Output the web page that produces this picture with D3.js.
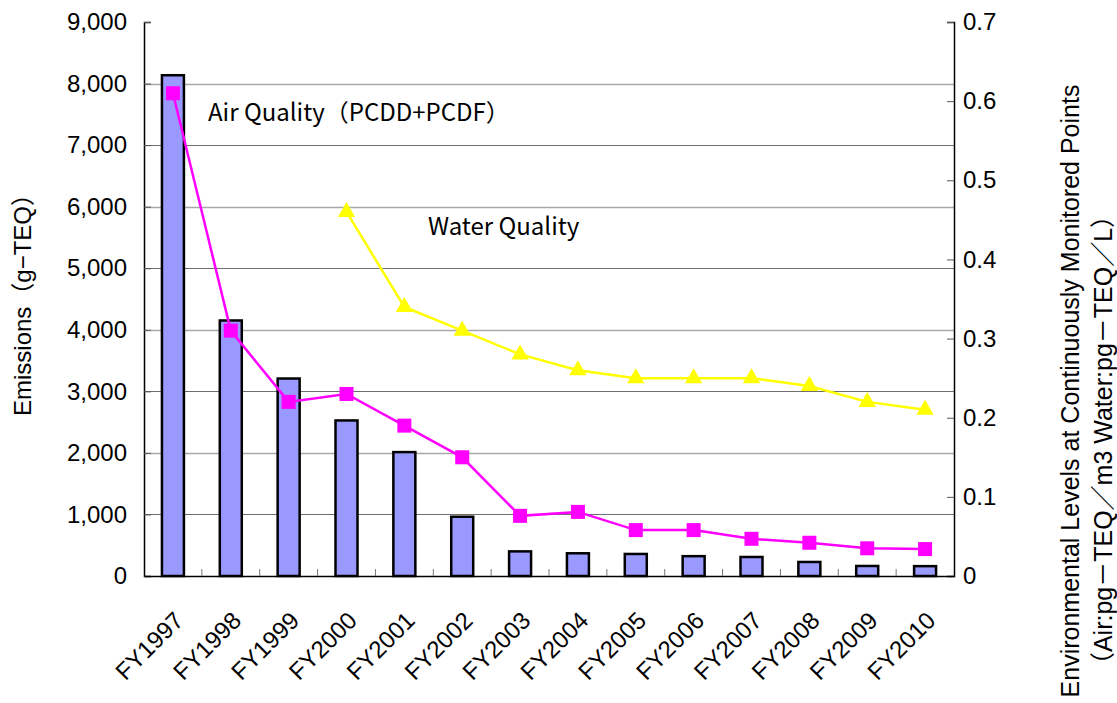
<!DOCTYPE html>
<html>
<head>
<meta charset="utf-8">
<script src="https://cdn.jsdelivr.net/npm/d3@7"></script>
<style>
  body { margin: 0; background: #fff; }
  svg text { font-family: "Liberation Sans", Arial, "Noto Sans CJK JP", sans-serif; fill: #000; }
  .jp { font-family: "Noto Sans CJK JP", "Liberation Sans", sans-serif; }
</style>
</head>
<body>
<div id="chart"></div>
<script>
// categories and series
var years = ["FY1997", "FY1998", "FY1999", "FY2000", "FY2001", "FY2002", "FY2003",
             "FY2004", "FY2005", "FY2006", "FY2007", "FY2008", "FY2009", "FY2010"];
var emissions = [8135, 4151, 3208, 2527, 2013, 963, 400, 369, 358, 322, 309, 228, 163, 160];
var airQuality = [0.61, 0.31, 0.22, 0.23, 0.19, 0.15, 0.076, 0.081, 0.058, 0.058, 0.047, 0.042, 0.035, 0.034];
var waterQuality = [null, null, null, 0.46, 0.34, 0.31, 0.28, 0.26, 0.25, 0.25, 0.25, 0.24, 0.22, 0.21];
var leftTicks = [0, 1000, 2000, 3000, 4000, 5000, 6000, 7000, 8000, 9000];
var rightTicks = [0, 0.1, 0.2, 0.3, 0.4, 0.5, 0.6, 0.7];

var width = 1117;
var height = 703;
var padding = {top: 22, right: 163, bottom: 127, left: 144};
var chartArea = {
  width: width - padding.left - padding.right,
  height: height - padding.top - padding.bottom
};

var svg = d3.select("#chart").append("svg")
  .attr("width", width)
  .attr("height", height);

var g = svg.append("g")
  .attr("transform", "translate(" + padding.left + "," + padding.top + ")");

// scales
var xScale = d3.scaleBand().domain(years).range([0, chartArea.width]).paddingInner(0.62).paddingOuter(0.31);
var yLeft = d3.scaleLinear().domain([0, 9000]).range([chartArea.height, 0]);
var yRight = d3.scaleLinear().domain([0, 0.7]).range([chartArea.height, 0]);
var step = xScale.step();
var center = function(d) { return xScale(d) + xScale.bandwidth() / 2; };

// gridlines (alternating tone like the original)
g.selectAll(".grid")
  .data(leftTicks.filter(function(d) { return d > 0 && d < 9000; }))
  .enter().append("line")
  .attr("x1", 0).attr("x2", chartArea.width)
  .attr("y1", function(d) { return Math.round(yLeft(d)) + 0.5; })
  .attr("y2", function(d) { return Math.round(yLeft(d)) + 0.5; })
  .attr("stroke", function(d) { return (d / 1000) % 2 === 0 ? "#a8a8a8" : "#6e6e6e"; })
  .attr("stroke-width", function(d) { return (d / 1000) % 2 === 0 ? 1.6 : 1; });

// left axis
var leftAxis = g.append("g")
  .call(d3.axisLeft(yLeft).tickValues(leftTicks).tickFormat(d3.format(",")).tickSize(-7).tickPadding(17));
leftAxis.select(".domain").attr("stroke", "#000").attr("stroke-width", 1.5);
leftAxis.selectAll(".tick line").attr("stroke", "#555");
leftAxis.selectAll("text").style("font-size", "24px");

// right axis
var rightAxis = g.append("g")
  .attr("transform", "translate(" + chartArea.width + ",0)")
  .call(d3.axisRight(yRight).tickValues(rightTicks)
    .tickFormat(function(d) { return d === 0 ? "0" : d3.format(".1f")(d); })
    .tickSize(-7).tickPadding(9));
rightAxis.select(".domain").attr("stroke", "#000").attr("stroke-width", 1.5);
rightAxis.selectAll(".tick line").attr("stroke", "#555");
rightAxis.selectAll("text").style("font-size", "24px");

// bars
g.selectAll(".bar")
  .data(emissions)
  .enter().append("rect")
  .attr("class", "bar")
  .attr("x", function(d, i) { return xScale(years[i]); })
  .attr("width", xScale.bandwidth())
  .attr("y", function(d) { return yLeft(d); })
  .attr("height", function(d) { return chartArea.height - yLeft(d); })
  .attr("fill", "#9999ff")
  .attr("stroke", "#000")
  .attr("stroke-width", 2.5);

// bottom axis
var bottomAxis = g.append("g")
  .attr("transform", "translate(0," + chartArea.height + ")")
  .call(d3.axisBottom(xScale).tickSize(0).tickPadding(0));
bottomAxis.select(".domain").attr("stroke", "#000").attr("stroke-width", 1.5);
bottomAxis.selectAll("text")
  .style("font-size", "24px")
  .style("text-anchor", "end")
  .attr("dy", "0.35em")
  .attr("transform", "translate(6,40) rotate(-45)");

// category boundary ticks pointing up
bottomAxis.selectAll(".sep")
  .data(years.slice(1))
  .enter().append("line")
  .attr("x1", function(d) { return xScale(d) - (step - xScale.bandwidth()) / 2; })
  .attr("x2", function(d) { return xScale(d) - (step - xScale.bandwidth()) / 2; })
  .attr("y1", 0).attr("y2", -7)
  .attr("stroke", "#777");

// air quality line
var airLine = d3.line()
  .x(function(d, i) { return center(years[i]); })
  .y(function(d) { return yRight(d); });

g.append("path")
  .attr("fill", "none")
  .attr("stroke", "#ff00ff")
  .attr("stroke-width", 2.5)
  .attr("d", airLine(airQuality));

g.selectAll(".airdot")
  .data(airQuality)
  .enter().append("rect")
  .attr("x", function(d, i) { return center(years[i]) - 7; })
  .attr("y", function(d) { return yRight(d) - 7; })
  .attr("width", 14).attr("height", 14)
  .attr("fill", "#ff00ff");

// water quality line
var waterLine = d3.line()
  .defined(function(d) { return d !== null; })
  .x(function(d, i) { return center(years[i]); })
  .y(function(d) { return yRight(d); });

g.append("path")
  .attr("fill", "none")
  .attr("stroke", "#ffff00")
  .attr("stroke-width", 2.5)
  .attr("d", waterLine(waterQuality));

var waterPts = [];
for (var j = 0; j < waterQuality.length; j++) {
  if (waterQuality[j] !== null) waterPts.push({year: years[j], value: waterQuality[j]});
}

var tri = d3.symbol().type(d3.symbolTriangle).size(130);
g.selectAll(".waterdot")
  .data(waterPts)
  .enter().append("path")
  .attr("d", tri)
  .attr("transform", function(d) {
    return "translate(" + center(d.year) + "," + yRight(d.value) + ")";
  })
  .attr("fill", "#ffff00");

// series labels
svg.append("text").attr("class", "jp")
  .attr("x", 208).attr("y", 121)
  .style("font-size", "24px")
  .text("Air Quality（PCDD+PCDF）");

svg.append("text").attr("class", "jp")
  .attr("x", 428).attr("y", 235)
  .style("font-size", "24px")
  .text("Water Quality");

// axis titles
svg.append("text")
  .attr("transform", "translate(22,299) rotate(-90)")
  .attr("text-anchor", "middle")
  .attr("dominant-baseline", "central")
  .style("font-size", "24px")
  .text("Emissions（g−TEQ）");

svg.append("text")
  .attr("transform", "translate(1070,391) rotate(-90)")
  .attr("text-anchor", "middle")
  .attr("dominant-baseline", "central")
  .style("font-size", "25px")
  .text("Environmental Levels at Continuously Monitored Points");

svg.append("text")
  .attr("transform", "translate(1103,440) rotate(-90)")
  .attr("text-anchor", "middle")
  .attr("dominant-baseline", "central")
  .style("font-size", "25px")
  .text("（Air:pg－TEQ／m3 Water:pg－TEQ／L）");
</script>
</body>
</html>
